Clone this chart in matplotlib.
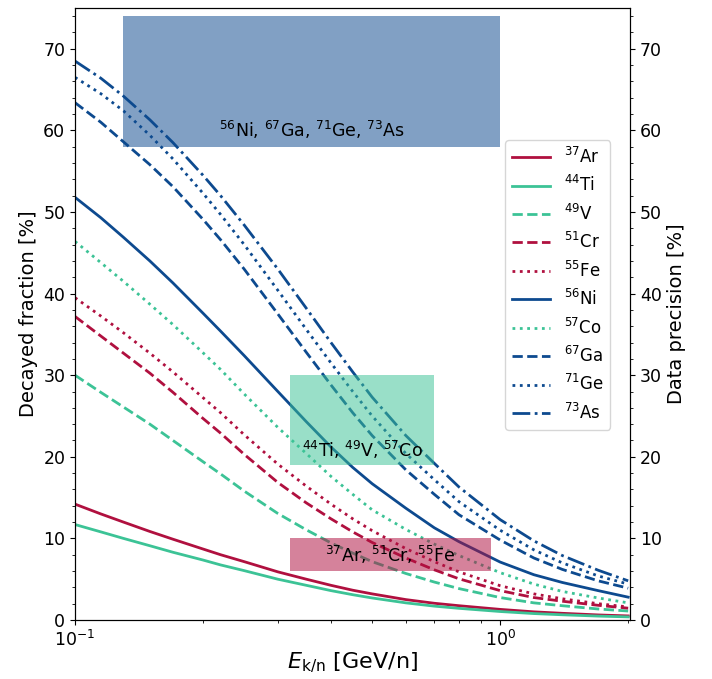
import matplotlib
matplotlib.use("Agg")
import matplotlib.pyplot as plt
from matplotlib.patches import Rectangle
from matplotlib.ticker import MultipleLocator

# Kinetic energy per nucleon [GeV/n]
energy = [0.1, 0.115, 0.13, 0.15, 0.17, 0.2, 0.22, 0.25, 0.3, 0.35, 0.4,
          0.45, 0.5, 0.6, 0.7, 0.8, 1.0, 1.2, 1.4, 1.7, 2.0]

# Decayed fraction [%]
ar37 = [14.2, 13.0, 12.0, 10.85, 9.9, 8.7, 8.0, 7.15, 5.9, 5.0, 4.25,
        3.65, 3.2, 2.5, 2.05, 1.75, 1.3, 1.0, 0.82, 0.62, 0.5]
ti44 = [11.7, 10.8, 10.0, 9.1, 8.3, 7.35, 6.75, 6.05, 5.0, 4.25, 3.6,
        3.1, 2.7, 2.1, 1.7, 1.43, 1.04, 0.79, 0.64, 0.48, 0.38]
v49 = [30.0, 27.9, 26.1, 24.0, 22.0, 19.4, 17.9, 15.8, 13.05, 11.05, 9.45,
       8.2, 7.15, 5.7, 4.65, 3.85, 2.75, 2.1, 1.75, 1.35, 1.1]
cr51 = [37.2, 34.8, 32.7, 30.25, 27.9, 24.7, 22.9, 20.3, 16.85, 14.35, 12.4,
        10.8, 9.5, 7.6, 6.15, 5.05, 3.6, 2.75, 2.3, 1.8, 1.45]
fe55 = [39.5, 37.25, 35.2, 32.7, 30.4, 27.25, 25.4, 22.7, 19.1, 16.4, 14.2,
        12.4, 10.95, 8.75, 7.15, 5.9, 4.2, 3.2, 2.6, 2.0, 1.6]
ni56 = [51.8, 49.3, 46.9, 44.0, 41.3, 37.6, 35.4, 32.4, 28.0, 24.3, 21.2,
        18.7, 16.7, 13.7, 11.3, 9.6, 7.1, 5.55, 4.6, 3.6, 2.8]
co57 = [46.4, 43.8, 41.5, 38.7, 36.2, 32.75, 30.7, 27.7, 23.6, 20.4, 17.6,
        15.4, 13.5, 11.1, 9.3, 7.9, 5.8, 4.4, 3.5, 2.7, 2.1]
ga67 = [63.4, 61.0, 58.6, 55.8, 53.1, 49.1, 46.6, 43.0, 37.5, 32.8, 28.8,
        25.4, 22.6, 18.4, 15.4, 12.9, 9.8, 7.6, 6.2, 4.8, 3.9]
ge71 = [66.5, 64.5, 62.4, 59.4, 56.5, 52.3, 49.7, 46.0, 40.4, 35.6, 31.5,
        28.0, 25.0, 20.4, 17.2, 14.5, 11.0, 8.6, 7.0, 5.4, 4.4]
as73 = [68.5, 66.4, 64.2, 61.3, 58.5, 54.5, 52.0, 48.4, 43.0, 38.2, 34.0,
        30.4, 27.3, 22.6, 19.2, 16.3, 12.3, 9.7, 7.9, 6.1, 4.8]

labels = [r"$^{37}$Ar", r"$^{44}$Ti", r"$^{49}$V", r"$^{51}$Cr", r"$^{55}$Fe",
          r"$^{56}$Ni", r"$^{57}$Co", r"$^{67}$Ga", r"$^{71}$Ge", r"$^{73}$As"]

# Data-precision boxes
box_x = [(0.13, 1.0), (0.32, 0.70), (0.32, 0.95)]
box_y = [(58, 74), (19, 30), (6, 10)]
box_text = [r"$^{56}$Ni, $^{67}$Ga, $^{71}$Ge, $^{73}$As",
            r"$^{44}$Ti, $^{49}$V, $^{57}$Co",
            r"$^{37}$Ar, $^{51}$Cr, $^{55}$Fe"]
box_text_y = [60, 20.8, 8.0]

RED = "#b0103f"
GREEN = "#3cc396"
BLUE = "#0d4a8f"
box_colors = [BLUE, GREEN, RED]

series = [ar37, ti44, v49, cr51, fe55, ni56, co57, ga67, ge71, as73]
colors = [RED, GREEN, GREEN, RED, RED, BLUE, GREEN, BLUE, BLUE, BLUE]
styles = ["-", "-", "--", "--", ":", "-", ":", "--", ":", "-."]

fig = plt.figure(figsize=(7.12, 6.79), dpi=100)
ax = fig.add_axes([75 / 712, 59 / 679, 555 / 712, 612 / 679])

for y, c, ls, lab in zip(series, colors, styles, labels):
    ax.plot(energy, y, color=c, ls=ls, lw=2, label=lab, zorder=2)

for (x0, x1), (y0, y1), txt, ty, c in zip(box_x, box_y, box_text, box_text_y, box_colors):
    ax.add_patch(Rectangle((x0, y0), x1 - x0, y1 - y0, facecolor=c, alpha=0.52,
                           edgecolor="none", zorder=3))
    xc = (x0 * x1) ** 0.5
    ax.text(xc, ty, txt, ha="center", va="center", fontsize=12.5, zorder=4)

ax.set_xscale("log")
ax.set_xlim(0.1, 2.02)
ax.set_ylim(0, 75)
ax.yaxis.set_major_locator(MultipleLocator(10))
ax.yaxis.set_minor_locator(MultipleLocator(2))
ax.tick_params(labelsize=12.5)
ax.set_xlabel(r"$E_{\mathrm{k/n}}$ [GeV/n]", fontsize=16, labelpad=1)
ax.set_ylabel("Decayed fraction [%]", fontsize=14)

ax2 = ax.twinx()
ax2.set_ylim(0, 75)
ax2.yaxis.set_major_locator(MultipleLocator(10))
ax2.yaxis.set_minor_locator(MultipleLocator(2))
ax2.tick_params(labelsize=12.5)
ax2.set_ylabel("Data precision [%]", fontsize=14)

ax.legend(loc="upper right", bbox_to_anchor=(0.964, 0.784), borderaxespad=0,
          fontsize=12, handlelength=2.3, labelspacing=0.5)

fig.savefig("out.png", dpi=100)
